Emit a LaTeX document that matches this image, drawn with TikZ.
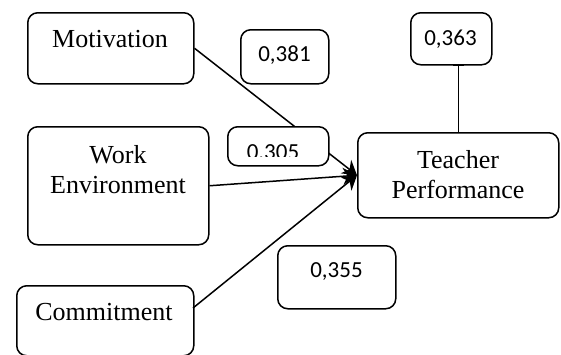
\documentclass[tikz,border=0pt]{standalone}
\usepackage{fontspec}
\setmainfont{Liberation Serif}
\newfontfamily\numfont{Carlito}
\usetikzlibrary{arrows.meta}
\begin{document}
\begin{tikzpicture}[x=1pt,y=-1pt,
 box/.style={draw, line width=1.5pt, rounded corners=10pt, inner sep=0pt, anchor=north west, fill=white},
 lab/.style={font=\fontsize{26}{30}\selectfont, inner sep=0pt, anchor=base},
 num/.style={font=\numfont\fontsize{23}{27}\selectfont, inner sep=0pt, anchor=base},
 conn/.style={line width=1.5pt, -{Stealth[length=14pt,width=17pt]}}]
\useasboundingbox (0,0) rectangle (561,354);
% variable boxes
\node[box, minimum width=166pt, minimum height=71pt] (mot) at (27,12) {};
\node[box, minimum width=181pt, minimum height=118pt] (we) at (27,126) {};
\node[box, minimum width=177pt, minimum height=70pt] (com) at (16,285) {};
\node[box, minimum width=201pt, minimum height=85pt] (tp) at (357,132) {};
% texts
\node[lab] (motT) at (110,47) {Motivation};
\node[lab] (weT1) at (118,163) {Work};
\node[lab] (weT2) at (118,193) {Environment};
\node[lab] (comT) at (104,320) {Commitment};
\node[lab] (tpT1) at (458,168) {Teacher};
\node[lab] (tpT2) at (458,198) {Performance};
% connectors
\coordinate (comOut) at (193,308);
\draw[conn] (mot.east) -- (tp.west);
\draw[conn] (we.east) -- (tp.west);
\draw[conn] (comOut) -- (tp.west);
% coefficient boxes
\node[box, minimum width=88pt, minimum height=54pt] (c381) at (240,29) {};
\node[num] (c381T) at (284.5,61) {0,381};
\node[box, minimum width=81pt, minimum height=52pt] (c363) at (410,12) {};
\node[num] (c363T) at (450.5,45) {0,363};
\node[box, minimum width=101pt, minimum height=39pt] (c305) at (227,126) {};
\begin{scope}
\clip (227,126) rectangle (328,156.5);
\node[num] (c305T) at (273,159) {0.305};
\end{scope}
\node[box, minimum width=118pt, minimum height=63pt] (c355) at (277,245) {};
\node[num] (c355T) at (336.5,277) {0,355};
% R-square connector
\draw[line width=1.5pt] (tp.north) -- (tp.north |- c363.south);
\draw[line width=1.5pt] ([xshift=-5.5pt]tp.north |- c363.south) -- ([xshift=5.5pt]tp.north |- c363.south);
\end{tikzpicture}
\end{document}
